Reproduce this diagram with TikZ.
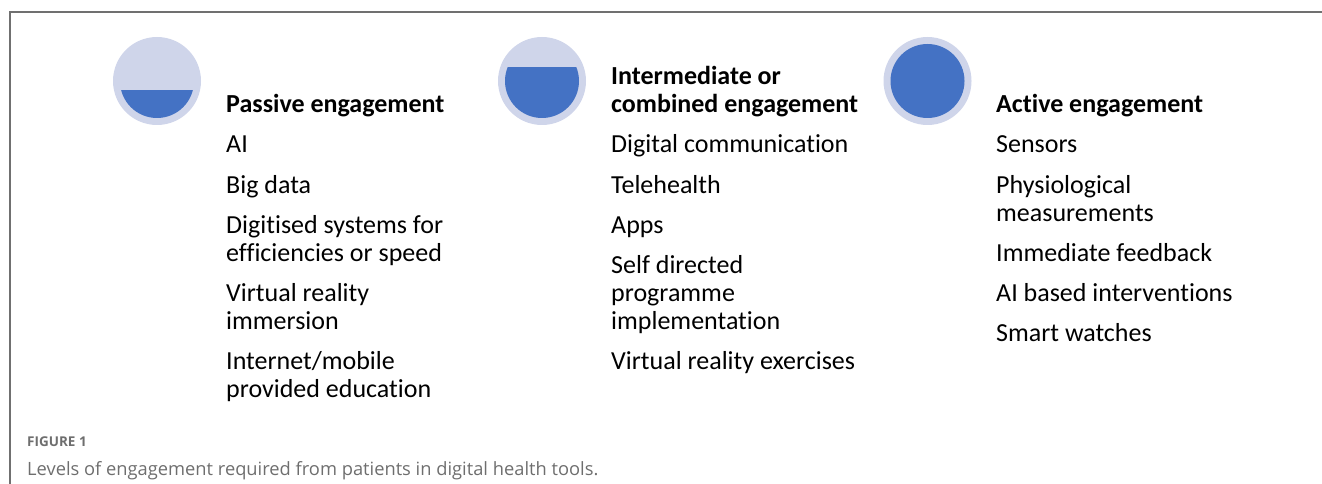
\documentclass[tikz,border=0pt]{standalone}
\usepackage{fontspec}
\setmainfont[Ligatures=NoCommon]{Carlito}
\newfontfamily\capfont{Open Sans}
\definecolor{ringlight}{HTML}{CFD5EA}
\definecolor{ringblue}{HTML}{4472C4}
\definecolor{framegray}{HTML}{707070}
\definecolor{capgray}{HTML}{6E6E6E}
\begin{document}
\begin{tikzpicture}[x=1pt,y=-1pt,
  head/.style={anchor=base west,inner sep=0pt,font=\fontsize{26}{28}\selectfont\bfseries},
  item/.style={anchor=base west,inner sep=0pt,font=\fontsize{26}{28}\selectfont},
  outerdisk/.style={fill=ringlight},
  innerdisk/.style={fill=ringblue},
  frameline/.style={draw=framegray,line width=1.2pt}]
\useasboundingbox (0,0) rectangle (1322,484);
% frame
\coordinate (fa) at (10,484);
\coordinate (fb) at (10,12);
\coordinate (fc) at (1322,12);
\draw[frameline] (fa) -- (fb) -- (fc);
% circles
\foreach \cx/\cut/\nm in {157/91/p, 542/68/m, 927.5/40/a}{
  \node[circle,outerdisk,minimum size=88pt,inner sep=0pt] (c\nm) at (\cx,81) {};
  \begin{scope}
    \clip (\cx-50,\cut) rectangle (\cx+50,130);
    \fill[innerdisk] (\cx,81) circle[radius=37];
  \end{scope}
}
% headings
\node[head] (hp) at (226,113) {Passive engagement};
\node[head] (hm1) at (611,85) {Intermediate or};
\node[head] (hm2) at (611,113) {combined engagement};
\node[head] (ha) at (996,113) {Active engagement};
% left column
\foreach \t/\y/\n in {AI/153/1, Big data/193/2, Digitised systems for/233/3, efficiencies or speed/261/4, Virtual reality/301/5, immersion/329/6, {Internet/mobile}/369/7, provided education/397/8}{
  \node[item] (p\n) at (226,\y) {\t};
}
% middle column
\foreach \t/\y/\n in {Digital communication/153/1, Telehealth/193/2, Apps/233/3, Self directed/273/4, programme/301/5, implementation/329/6, Virtual reality exercises/369/7}{
  \node[item] (m\n) at (611,\y) {\t};
}
% right column
\foreach \t/\y/\n in {Sensors/153/1, Physiological/193/2, measurements/221/3, Immediate feedback/261/4, AI based interventions/301/5, Smart watches/341/6}{
  \node[item] (a\n) at (996,\y) {\t};
}
% caption
\node[anchor=base west,inner sep=0pt,text=capgray,font=\capfont\fontsize{13.5}{15}\selectfont\bfseries] (fig) at (27,446) {FIGURE 1};
\node[anchor=base west,inner sep=0pt,text=capgray,font=\capfont\fontsize{18.3}{20}\selectfont] (cap) at (27,475) {Levels of engagement required from patients in digital health tools.};
\end{tikzpicture}
\end{document}
